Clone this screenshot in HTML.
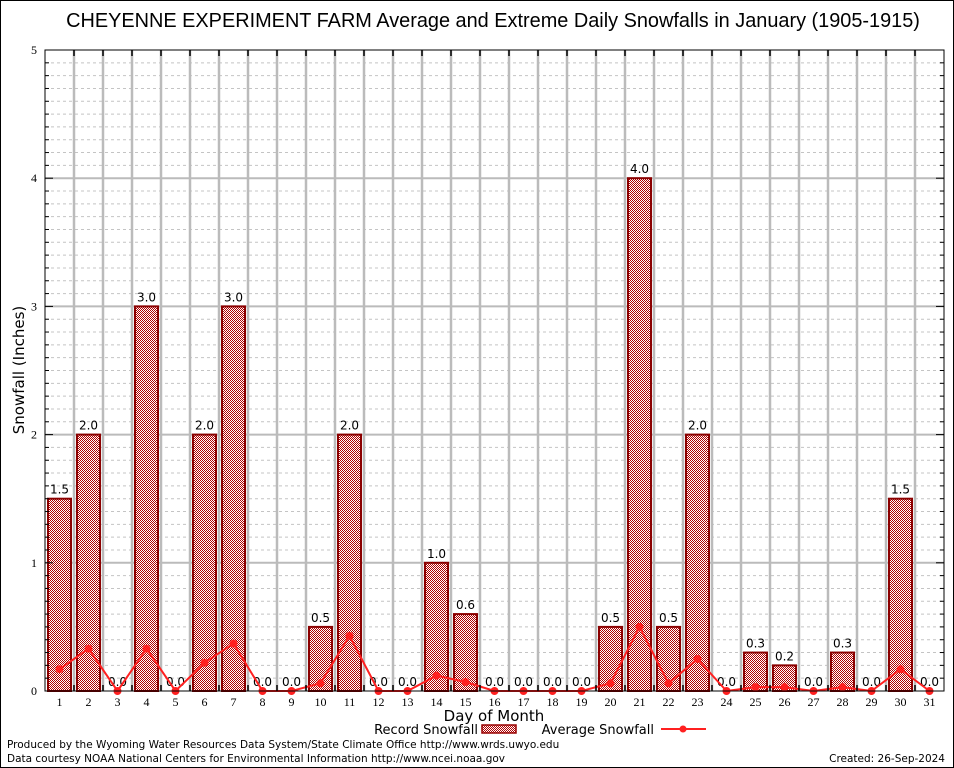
<!DOCTYPE html>
<html><head><meta charset="utf-8"><style>
body{margin:0;background:#fff}
svg{display:block;font-family:"DejaVu Sans","Liberation Sans",sans-serif}
</style></head><body>
<svg id="chart" width="954" height="768" viewBox="0 0 954 768">
<defs>
<pattern id="chk" width="2" height="2" patternUnits="userSpaceOnUse">
<rect width="2" height="2" fill="#fff"/><rect width="1" height="1" fill="#b00000"/><rect x="1" y="1" width="1" height="1" fill="#b00000"/>
</pattern>
</defs>
<rect x="0.5" y="0.5" width="953" height="767" fill="#fff" stroke="#000"/>
<text x="493" y="27" font-size="19.9" text-anchor="middle" font-family="Liberation Sans, sans-serif">CHEYENNE EXPERIMENT FARM Average and Extreme Daily Snowfalls in January (1905-1915)</text>
<g id="grid"></g>
<g id="bars"></g>
<g id="avg"></g>
<rect x="45" y="50" width="899" height="641" fill="none" stroke="#000" stroke-width="1"/>
<g id="axes"></g>
<text transform="translate(24,370) rotate(-90)" font-size="15" text-anchor="middle">Snowfall (Inches)</text>
<text x="494" y="721" font-size="15" text-anchor="middle">Day of Month</text>
<g>
<text x="478" y="734" font-size="13" text-anchor="end">Record Snowfall</text>
<rect x="482" y="725" width="34" height="8" fill="url(#chk)" stroke="#990000" stroke-width="1.5"/>
<text x="654" y="734" font-size="13" text-anchor="end">Average Snowfall</text>
<line x1="661" y1="729" x2="706" y2="729" stroke="#ff2020" stroke-width="2"/>
<circle cx="683" cy="729" r="3.5" fill="#ff2020"/>
</g>
<text x="7" y="748" font-size="10.5">Produced by the Wyoming Water Resources Data System/State Climate Office http://www.wrds.uwyo.edu</text>
<text x="7" y="762" font-size="10.5">Data courtesy NOAA National Centers for Environmental Information http://www.ncei.noaa.gov</text>
<text x="945" y="762" font-size="10.5" text-anchor="end">Created: 26-Sep-2024</text>
</svg>
<script>
const days=[1,2,3,4,5,6,7,8,9,10,11,12,13,14,15,16,17,18,19,20,21,22,23,24,25,26,27,28,29,30,31];
const recordSnow=[1.5,2.0,0,3.0,0,2.0,3.0,0,0,0.5,2.0,0,0,1.0,0.6,0,0,0,0,0.5,4.0,0.5,2.0,0,0.3,0.2,0,0.3,0,1.5,0];
const avgSnow=[0.17,0.33,0,0.33,0,0.22,0.37,0,0,0.06,0.43,0,0,0.12,0.07,0,0,0,0,0.06,0.5,0.06,0.25,0,0.03,0.03,0,0.03,0,0.17,0];
const yTicks=[0,1,2,3,4,5];
const NS="http://www.w3.org/2000/svg";
const L=45,T=50,W=899,H=641,YMAX=5;
const xs=d=>L+(d-0.5)*W/31;
const ys=v=>T+H-v/YMAX*H;
function mk(tag,attrs,parent){const e=document.createElementNS(NS,tag);for(const k in attrs)e.setAttribute(k,attrs[k]);parent.appendChild(e);return e;}
const grid=document.getElementById('grid'),bars=document.getElementById('bars'),avg=document.getElementById('avg'),axes=document.getElementById('axes');
for(let i=1;i<YMAX*10;i++){if(i%10===0)continue;const y=ys(i/10);
const g=mk('line',{x1:L,x2:L+W,y1:y,y2:y,stroke:'#c4c4c4','stroke-dasharray':'3,3','stroke-width':1},grid);


const t1=mk('line',{x1:L,x2:L+4,y1:y,y2:y,stroke:'#000'},axes);


const t2=mk('line',{x1:L+W-4,x2:L+W,y1:y,y2:y,stroke:'#000'},axes);

}
yTicks.forEach(v=>{const y=ys(v);
if(v>0&&v<YMAX){const g=mk('line',{x1:L,x2:L+W,y1:y,y2:y,stroke:'#bbb','stroke-width':2},grid);

}
const t1=mk('line',{x1:L,x2:L+8,y1:y,y2:y,stroke:'#000'},axes);


const t2=mk('line',{x1:L+W-8,x2:L+W,y1:y,y2:y,stroke:'#000'},axes);


const t=mk('text',{x:L-8,y:y+4,'font-size':12,'text-anchor':'end','font-family':'Liberation Serif, serif'},axes);t.textContent=v;

});
for(let i=1;i<31;i++){const x=L+i*W/31;
const g=mk('line',{x1:x,x2:x,y1:T,y2:T+H,stroke:'#bbb','stroke-width':2.5},grid);


const t=mk('line',{x1:x,x2:x,y1:T,y2:T+6,stroke:'#000','stroke-width':1.5},axes);


const tb=mk('line',{x1:x,x2:x,y1:T+H-6,y2:T+H,stroke:'#000','stroke-width':1.5},axes);

}
days.forEach((d,i)=>{const x=xs(d),v=recordSnow[i];
if(v>0){const b=mk('rect',{x:x-11.5,y:ys(v),width:23,height:ys(0)-ys(v),fill:'url(#chk)',stroke:'#8b0000','stroke-width':2},bars);

}
const lbl=mk('text',{x:x,y:ys(v)-5,'font-size':12,'text-anchor':'middle'},bars);lbl.textContent=v.toFixed(1);


const xl=mk('text',{x:x,y:T+H+15,'font-size':12,'text-anchor':'middle','font-family':'Liberation Serif, serif'},axes);xl.textContent=d;

});
const pl=mk('polyline',{points:days.map((d,i)=>xs(d)+','+ys(avgSnow[i])).join(' '),fill:'none',stroke:'#ff2020','stroke-width':2},avg);


days.forEach((d,i)=>{const c=mk('circle',{cx:xs(d),cy:ys(avgSnow[i]),r:4,fill:'#ff2020'},avg);

});
</script>
</body></html>
